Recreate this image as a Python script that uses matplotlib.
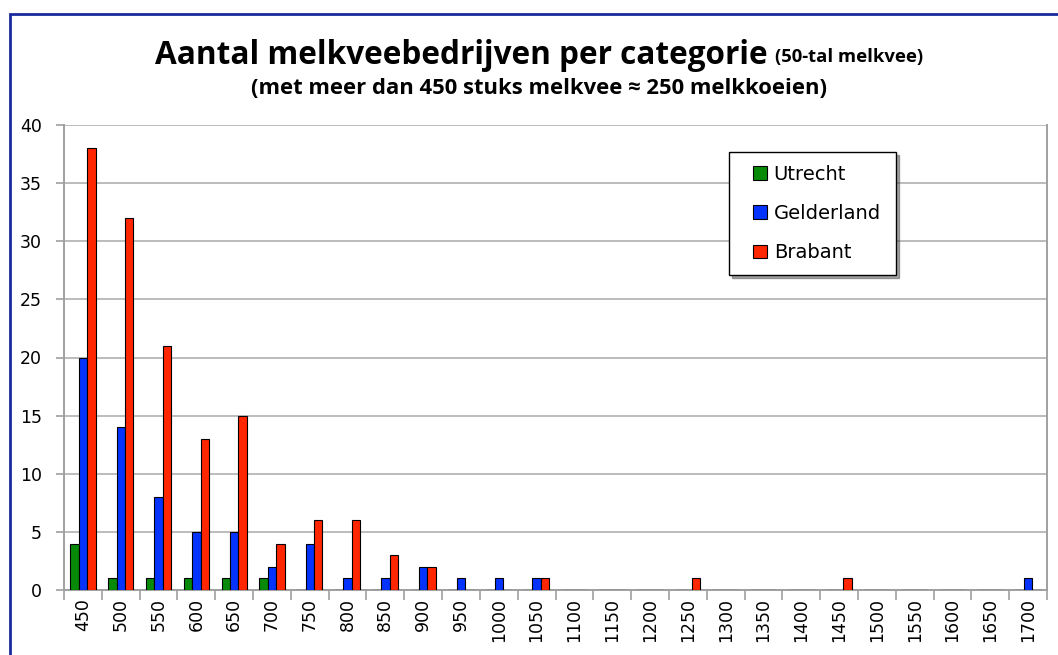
# coding=utf-8
import numpy as np
import matplotlib.pyplot as plt
from matplotlib.patches import Rectangle
from matplotlib.container import BarContainer
from matplotlib.legend_handler import HandlerPatch, update_from_first_child

plt.rcParams['font.family'] = ['DejaVu Sans']

categories = [str(v) for v in range(450, 1701, 50)]
utrecht = [4, 1, 1, 1, 1, 1, 0, 0, 0, 0, 0, 0, 0, 0, 0, 0, 0, 0, 0, 0, 0, 0, 0, 0, 0, 0]
gelderland = [20, 14, 8, 5, 5, 2, 4, 1, 1, 2, 1, 1, 1, 0, 0, 0, 0, 0, 0, 0, 0, 0, 0, 0, 0, 1]
brabant = [38, 32, 21, 13, 15, 4, 6, 6, 3, 2, 0, 0, 1, 0, 0, 0, 1, 0, 0, 0, 1, 0, 0, 0, 0, 0]

fig = plt.figure(figsize=(10.58, 6.55), dpi=100)
fig.patch.set_facecolor('white')

# blauwe rand om de grafiek (loopt rechts en onder buiten beeld)
fig.patches.append(Rectangle((10 / 1058, -0.05), 1.1, 1 - 14 / 655 + 0.05,
                             transform=fig.transFigure, fill=False,
                             edgecolor='#1a2a9c', linewidth=2))

ax = fig.add_axes([64 / 1058, 1 - 590 / 655, 983 / 1058, 465 / 655])

x = np.arange(len(categories))
w = 1 / 4.5
ax.bar(x - w, utrecht, w, color='#078a07', edgecolor='black', linewidth=0.8, label='Utrecht', zorder=3)
ax.bar(x, gelderland, w, color='#0433ff', edgecolor='black', linewidth=0.8, label='Gelderland', zorder=3)
ax.bar(x + w, brabant, w, color='#ff2600', edgecolor='black', linewidth=0.8, label='Brabant', zorder=3)

ax.set_xlim(-0.5, len(categories) - 0.5)
ax.set_ylim(0, 40)
ax.set_yticks(range(0, 41, 5))
ax.yaxis.grid(True, color='#b0b0b0', linewidth=1.2, zorder=0)

# ticks op de grenzen tussen categorieen, labels in het midden
ax.set_xticks(np.arange(len(categories) + 1) - 0.5)
ax.set_xticklabels([])
ax.set_xticks(x, minor=True)
ax.set_xticklabels(categories, minor=True, rotation=90, fontsize=12.5)
ax.tick_params(axis='x', which='major', length=7, color='#a0a0a0', width=1.2)
ax.tick_params(axis='x', which='minor', length=0, pad=6)
ax.tick_params(axis='y', length=6, color='#a0a0a0', width=1.2, labelsize=12.5, pad=10)

ax.spines['top'].set_visible(False)
for s in ['left', 'bottom', 'right']:
    ax.spines[s].set_color('#a0a0a0')
    ax.spines[s].set_linewidth(1.4)

lx = (729 - 64) / 983
ltop = (590 - 152) / 465
lw = 167 / 983
lh = 118 / 465
leg = ax.legend(loc='upper left', bbox_to_anchor=(lx, ltop - lh, lw, lh), mode='expand',
                borderaxespad=0, frameon=True, fancybox=False, shadow=True,
                edgecolor='black', fontsize=14, handlelength=1.3, handleheight=0.7,
                handletextpad=0.35, labelspacing=1.05, borderpad=0.65,
                handler_map={BarContainer: HandlerPatch(xpad=0.6, update_func=update_from_first_child)})
leg.get_frame().set_linewidth(1.0)

fig.text(155 / 1058, 1 - 55 / 655, 'Aantal melkveebedrijven per categorie', fontsize=22.7,
         fontweight='bold', family='Open Sans', ha='left', va='center')
fig.text(775 / 1058, 1 - 57 / 655, '(50-tal melkvee)', fontsize=13.3,
         fontweight='bold', family='Open Sans', ha='left', va='center')
fig.text(0.509, 1 - 89 / 655, '(met meer dan 450 stuks melkvee \u2248 250 melkkoeien)',
         fontsize=15.8, fontweight='bold', family='Open Sans', ha='center', va='center')

plt.savefig('out.png', dpi=100)
